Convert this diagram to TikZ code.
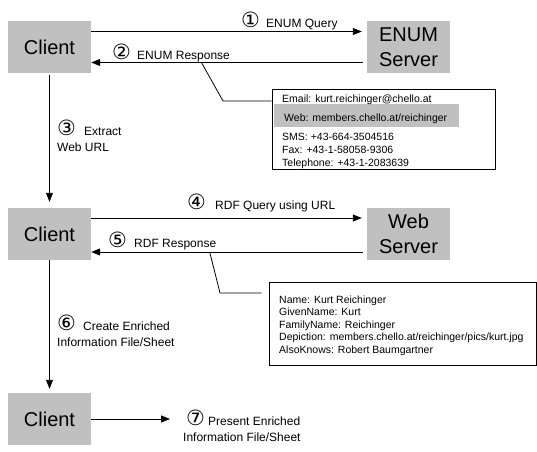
\documentclass[tikz,border=0pt]{standalone}
\usepackage{fontspec}
\setmainfont{Liberation Sans}
\newfontfamily\digitfont{DejaVu Sans}
\usetikzlibrary{arrows.meta}

\definecolor{boxgray}{RGB}{192,192,192}
% circled step number, set in a box of fixed width
\newcommand{\cnum}[2][25pt]{\makebox[#1][l]{\digitfont\fontsize{21}{21}\selectfont #2}}

\tikzset{
	entity/.style={fill=boxgray,minimum width=83pt,minimum height=52pt,inner sep=0pt,align=center,font=\fontsize{20}{25}\selectfont},
	msg/.style={line width=0.9pt,-{Triangle[length=9pt,width=7pt]}},
	lbl/.style={anchor=base west,inner sep=0pt,align=left,font=\fontsize{12}{16}\selectfont},
	infobox/.style={draw,line width=0.9pt,inner sep=0pt},
	info/.style={anchor=base west,inner sep=0pt,align=left,font=\fontsize{10.5}{13}\selectfont},
	leader/.style={line width=0.8pt}
}

\begin{document}
\begin{tikzpicture}[x=1pt,y=-1pt]
		\useasboundingbox (0,0) rectangle (537,451);

		\node[entity] (client1) at (49.5,47) {Client};
		\node[entity] (enum) at (408.5,47) {ENUM\\Server};
		\node[entity] (client2) at (49.5,234) {Client};
		\node[entity] (web) at (408.5,234) {Web\\Server};
		\node[entity] (client3) at (49.5,419) {Client};
		\coordinate (present) at (170,419);

		% ENUM lookup
		\draw[msg,shorten >=5pt] ([yshift=15.5pt]client1.east) -- ([yshift=15.5pt]enum.west);
		\draw[msg,shorten <=4pt] ([yshift=-15.5pt]enum.west) -- coordinate[pos=0.6] (tap1) ([yshift=-15.5pt]client1.east);
		\draw[msg,shorten <=2pt,shorten >=6pt] (client1) -- (client2);

		% RDF lookup
		\draw[msg,shorten >=5pt] ([yshift=16pt]client2.east) -- ([yshift=16pt]web.west);
		\draw[msg,shorten <=4pt] ([yshift=-18pt]web.west) -- coordinate[pos=0.57] (tap2) ([yshift=-18pt]client2.east);
		\draw[msg,shorten >=4pt] (client2) -- (client3);
		\draw[msg] (client3) -- (present);

		% step labels (multi-line ones sit on their last baseline)
		\node[lbl] (q1) at (241,27) {\cnum{①}ENUM Query};
		\node[lbl] (r1) at (112,59) {\cnum{②}ENUM Response};
		\node[lbl] (extract) at (57,151) {\cnum[27pt]{③}Extract\\Web URL};
		\node[lbl] (q2) at (187,209) {\cnum[28pt]{④}RDF Query using URL};
		\node[lbl] (r2) at (108,247) {\cnum[26pt]{⑤}RDF Response};
		\node[lbl] (create) at (57,346) {\cnum[26pt]{⑥}Create Enriched\\Information File/Sheet};
		\node[lbl] (show) at (183,441) {\hspace{3pt}\cnum[22pt]{⑦}Present Enriched\\Information File/Sheet};

		% ENUM record
		\node[infobox,minimum width=223pt,minimum height=80pt] (enuminfo) at (383.5,129) {};
		\node[fill=boxgray,minimum width=185pt,minimum height=23pt,inner sep=0pt] (webrow) at (366.5,115.5) {};
		\node[info] (email) at (282,102) {Email: kurt.reichinger@chello.at};
		\node[info] (url) at (284,121) {Web: members.chello.at/reichinger};
		\node[info] (phones) at (282,166) {SMS: +43-664-3504516\\Fax: +43-1-58058-9306\\Telephone: +43-1-2083639};
		\coordinate (bend1) at (223,101);
		\draw[leader] (tap1) -- (bend1) -- (bend1 -| enuminfo.west);

		% RDF record
		\node[infobox,minimum width=267pt,minimum height=83pt] (rdfinfo) at (402.5,323.5) {};
		\node[info,font=\fontsize{10.5}{12.5}\selectfont] (foaf) at (279,353) {Name: Kurt Reichinger\\GivenName: Kurt\\FamilyName: Reichinger\\Depiction: members.chello.at/reichinger/pics/kurt.jpg\\AlsoKnows: Robert Baumgartner};
		\coordinate (bend2) at (220,293);
		\draw[leader,shorten >=7pt] (tap2) -- (bend2) -- (bend2 -| rdfinfo.west);
\end{tikzpicture}
\end{document}
